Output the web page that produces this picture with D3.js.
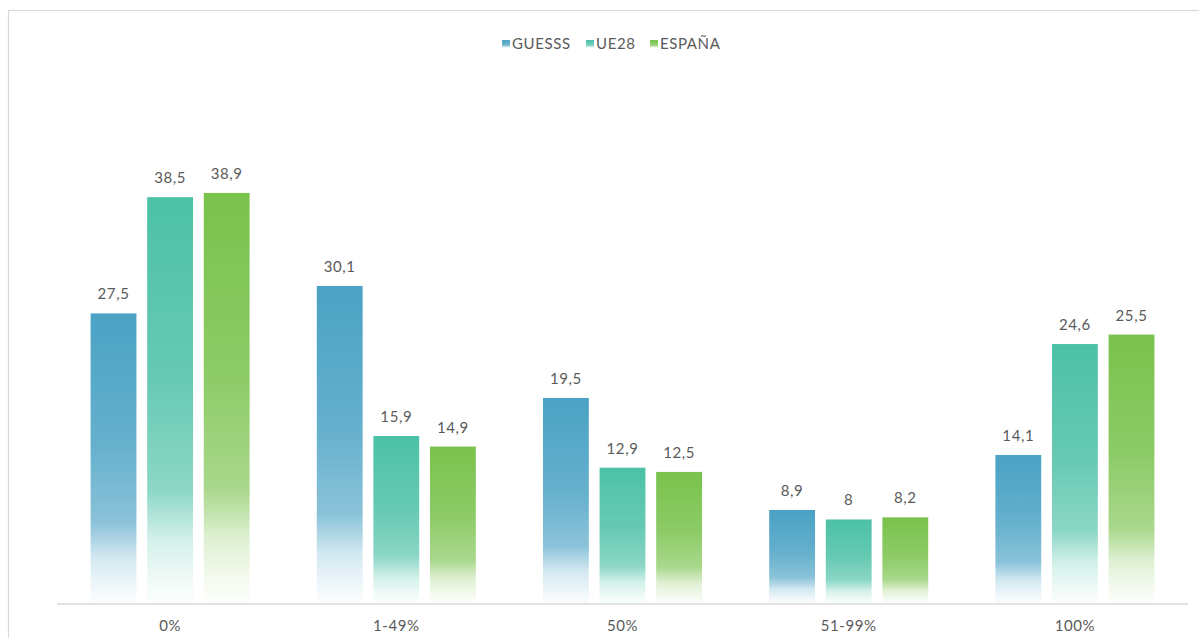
<!DOCTYPE html>
<html>
<head>
<meta charset="utf-8">
<script src="https://cdn.jsdelivr.net/npm/d3@7/dist/d3.min.js"></script>
<style>
  html, body { margin: 0; padding: 0; background: #fff; }
  svg { display: block; }
  text { font-family: "Lato", "Open Sans", sans-serif; fill: #5a5a5a; letter-spacing: 0.6px; }
</style>
</head>
<body>
<svg id="chart" width="1199" height="638"></svg>
<script>
// Percentage ranges (categories) and the three compared series
const categories = ["0%", "1-49%", "50%", "51-99%", "100%"];
const seriesNames = ["GUESSS", "UE28", "ESPAÑA"];
const guesss = [27.5, 30.1, 19.5, 8.9, 14.1];
const ue28 = [38.5, 15.9, 12.9, 8, 24.6];
const espana = [38.9, 14.9, 12.5, 8.2, 25.5];
const seriesColors = ["#4aa2c4", "#4cc1a6", "#79c24c"];

const seriesValues = [guesss, ue28, espana];
const rows = categories.map((c, i) => ({
  cat: c,
  vals: seriesNames.map((s, j) => ({ key: s, idx: j, value: seriesValues[j][i] }))
}));

const svg = d3.select("#chart");

// outer frame
svg.append("rect")
  .attr("x", 8.5).attr("y", 10.5)
  .attr("width", 1200).attr("height", 700)
  .attr("fill", "none").attr("stroke", "#d9d9d9").attr("stroke-width", 1.2);

const left = 57, right = 1188, baseY = 604;

const x0 = d3.scaleBand().domain(categories).range([left, right])
  .paddingInner(0.297).paddingOuter(0.1485);
const x1 = d3.scaleBand().domain(seriesNames).range([0, x0.bandwidth()])
  .paddingInner(0.19).paddingOuter(0);
const y = d3.scaleLinear().domain([0, 45]).range([baseY, baseY - 45 * 10.567]);

// vertical fading gradients per series
const defs = svg.append("defs");
seriesColors.forEach((col, j) => {
  const g = defs.append("linearGradient")
    .attr("id", "grad" + j)
    .attr("x1", 0).attr("y1", 0).attr("x2", 0).attr("y2", 1);
  const mix = t => d3.interpolateRgb("#ffffff", col)(t);
  [[0, 1], [0.45, 0.85], [0.72, 0.64], [0.84, 0.25], [0.95, 0.07], [1, 0.02]]
    .forEach(([o, t]) => g.append("stop").attr("offset", o).attr("stop-color", mix(t)));
});

const groups = svg.append("g").selectAll("g")
  .data(rows).join("g")
  .attr("transform", d => `translate(${x0(d.cat)},0)`);

groups.selectAll("rect")
  .data(d => d.vals).join("rect")
  .attr("x", d => x1(d.key))
  .attr("y", d => y(d.value))
  .attr("width", x1.bandwidth())
  .attr("height", d => baseY - y(d.value))
  .attr("fill", d => `url(#grad${d.idx})`);

groups.selectAll("text.val")
  .data(d => d.vals).join("text")
  .attr("class", "val")
  .attr("x", d => x1(d.key) + x1.bandwidth() / 2)
  .attr("y", d => y(d.value) - 14)
  .attr("text-anchor", "middle")
  .attr("font-size", 15)
  .text(d => String(d.value).replace(".", ","));

// category axis
const xAxis = svg.append("g")
  .attr("transform", `translate(0,${baseY})`)
  .call(d3.axisBottom(x0).tickSize(0).tickPadding(16));
xAxis.select(".domain").attr("stroke", "#d9d9d9").attr("stroke-width", 1.5)
  .attr("d", `M${left},0H${right}`);
xAxis.selectAll("text").attr("font-size", 15).attr("fill", "#5a5a5a")
  .style("font-family", "Lato, 'Open Sans', sans-serif");

// legend
const legend = svg.append("g").attr("transform", "translate(502,44)");
const legendX = [0, 84, 148];
seriesNames.forEach((s, j) => {
  const item = legend.append("g").attr("transform", `translate(${legendX[j]},0)`);
  item.append("rect").attr("x", 0).attr("y", -4).attr("width", 8).attr("height", 8)
    .attr("fill", `url(#grad${j})`);
  item.append("text").attr("x", 10).attr("y", 5).attr("font-size", 15).text(s);
});
</script>
</body>
</html>
